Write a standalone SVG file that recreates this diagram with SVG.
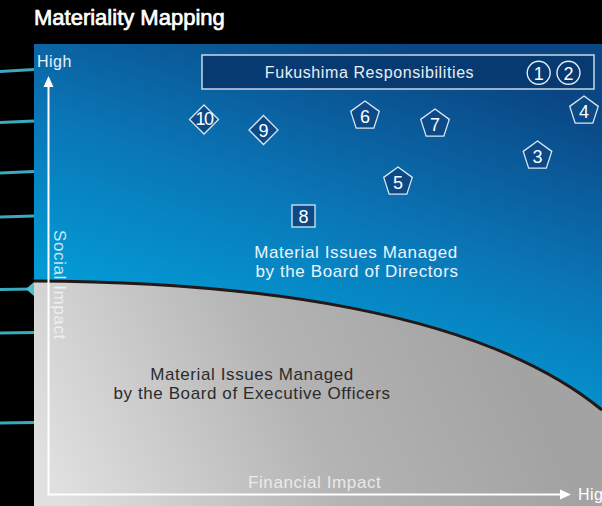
<svg xmlns="http://www.w3.org/2000/svg" xmlns:xlink="http://www.w3.org/1999/xlink" width="602" height="506" viewBox="0 0 602 506">
  <defs>
    <linearGradient id="blueGrad" gradientUnits="userSpaceOnUse" x1="400" y1="44" x2="290" y2="380">
      <stop offset="0" stop-color="#0a4684"/>
      <stop offset="0.5" stop-color="#0a76b6"/>
      <stop offset="1" stop-color="#02a0da"/>
    </linearGradient>
    <linearGradient id="grayGrad" gradientUnits="userSpaceOnUse" x1="60" y1="500" x2="480" y2="300">
      <stop offset="0" stop-color="#e0e0e0"/>
      <stop offset="0.55" stop-color="#b4b4b4"/>
      <stop offset="1" stop-color="#a3a3a3"/>
    </linearGradient>
    <marker id="arrow" markerUnits="userSpaceOnUse" markerWidth="12" markerHeight="11" refX="1" refY="5" orient="auto-start-reverse" viewBox="0 0 12 10">
      <path d="M0,0 L11,5 L0,10 Z" fill="#ffffff"/>
    </marker>
    <polygon id="pent" points="0,-15 14.27,-4.64 8.82,12.14 -8.82,12.14 -14.27,-4.64"/>
    <polygon id="diam" points="0,-14.5 14.5,0 0,14.5 -14.5,0"/>
  </defs>
  <style>
    text { font-family: "Liberation Sans", Arial, Helvetica, sans-serif; }
    .teal { stroke: #3aa9bb; stroke-width: 3; fill: none; }
    .mark { fill: #0b4a86; stroke: #dbe7f1; stroke-width: 1.3; }
    .num { fill: #ffffff; font-size: 18px; text-anchor: middle; }
    .lbl { font-size: 17px; letter-spacing: 0.6px; text-anchor: middle; }
    .axis { stroke: #ffffff; stroke-width: 2; fill: none; }
  </style>

  <rect x="0" y="0" width="602" height="506" fill="#000000"/>

  <g id="title">
    <text x="34" y="25" font-size="22" fill="#ffffff" stroke="#ffffff" stroke-width="0.7">Materiality Mapping</text>
  </g>

  <g id="side-lines">
    <line class="teal" x1="0" y1="71.5" x2="34" y2="69.5"/>
    <line class="teal" x1="0" y1="122.5" x2="34" y2="121"/>
    <line class="teal" x1="0" y1="173" x2="34" y2="171.5"/>
    <line class="teal" x1="0" y1="217" x2="34" y2="216"/>
    <line class="teal" x1="0" y1="289.5" x2="34" y2="289"/>
    <polygon points="26,289 34,282 34,296" fill="#4fc0d2"/>
    <line class="teal" x1="0" y1="333" x2="34" y2="332.5" stroke="#2a8d9e"/>
    <line class="teal" x1="0" y1="423" x2="34" y2="422.5" stroke="#2a98bd"/>
  </g>

  <g id="chart-area">
    <rect x="34" y="44" width="568" height="462" fill="url(#blueGrad)"/>
    <path d="M34,281 C250,282 480,310 602,410 V506 H34 Z" fill="url(#grayGrad)"/>
    <path d="M34,281 C250,282 480,310 602,410" fill="none" stroke="#231815" stroke-width="3"/>
  </g>

  <g id="connectors">
    <path class="axis" d="M48.5,86 V494.5 H561" marker-start="url(#arrow)" marker-end="url(#arrow)"/>
  </g>

  <g id="axis-labels">
    <text x="37" y="67" font-size="16" fill="#e6f2fa" letter-spacing="0.5">High</text>
    <text x="578" y="500" font-size="16" fill="#ffffff" letter-spacing="0.5">High</text>
    <text transform="rotate(90)" x="230" y="-53.5" font-size="17" letter-spacing="0.6" fill="#f2f6fa" fill-opacity="0.85">Social Impact</text>
    <text x="248" y="488" font-size="17" letter-spacing="0.6" fill="#f4f4f4" fill-opacity="0.85">Financial Impact</text>
  </g>

  <g id="zone-directors">
    <text class="lbl" x="356" y="258" fill="#eaf5fc">Material Issues Managed</text>
    <text class="lbl" x="357" y="277" fill="#eaf5fc">by the Board of Directors</text>
  </g>

  <g id="zone-executive">
    <text class="lbl" x="252" y="379.5" fill="#2b2b2b">Material Issues Managed</text>
    <text class="lbl" x="252" y="398.5" fill="#2b2b2b">by the Board of Executive Officers</text>
  </g>

  <g id="fukushima">
    <rect x="202" y="55" width="392" height="34" fill="#073a70" stroke="#c9d8e6" stroke-width="1.5"/>
    <text x="369.5" y="78" font-size="16" letter-spacing="0.6" fill="#e8eef4" text-anchor="middle">Fukushima Responsibilities</text>
  </g>

  <g id="issue-1">
    <circle cx="538.7" cy="72.8" r="11.5" fill="none" stroke="#e8eef4" stroke-width="1.4"/>
    <text class="num" x="538.7" y="79.5" font-size="17">1</text>
  </g>
  <g id="issue-2">
    <circle cx="568.5" cy="72.8" r="11.5" fill="none" stroke="#e8eef4" stroke-width="1.4"/>
    <text class="num" x="568.5" y="79.5" font-size="17">2</text>
  </g>
  <g id="issue-3">
    <use href="#pent" x="537.5" y="156" class="mark"/>
    <text class="num" x="537.5" y="163.3">3</text>
  </g>
  <g id="issue-4">
    <use href="#pent" x="584" y="111" class="mark"/>
    <text class="num" x="584" y="118.3">4</text>
  </g>
  <g id="issue-5">
    <use href="#pent" x="398" y="182" class="mark"/>
    <text class="num" x="398" y="189.3">5</text>
  </g>
  <g id="issue-6">
    <use href="#pent" x="365" y="116" class="mark"/>
    <text class="num" x="365" y="123.3">6</text>
  </g>
  <g id="issue-7">
    <use href="#pent" x="435" y="124" class="mark"/>
    <text class="num" x="435" y="131.3">7</text>
  </g>
  <g id="issue-8">
    <rect x="292" y="205" width="23" height="22" class="mark"/>
    <text class="num" x="303.5" y="223">8</text>
  </g>
  <g id="issue-9">
    <use href="#diam" x="263.5" y="130" class="mark"/>
    <text class="num" x="263.5" y="136.7">9</text>
  </g>
  <g id="issue-10">
    <use href="#diam" x="204" y="119.5" class="mark"/>
    <text class="num" x="204" y="125" font-size="15" letter-spacing="-1.5">10</text>
  </g>
</svg>
